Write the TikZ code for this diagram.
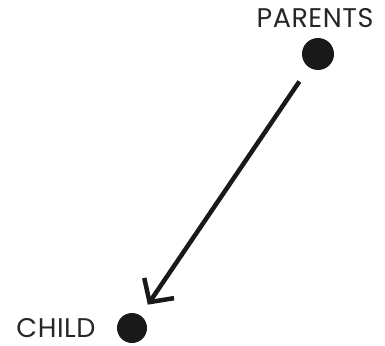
\documentclass[tikz,border=0pt]{standalone}
\usepackage{fontspec}
\setmainfont{Poppins}[LetterSpace=2]
\usetikzlibrary{arrows.meta}
\begin{document}
\begin{tikzpicture}[x=1pt,y=-1pt,
  dot/.style={circle,fill=black!90,inner sep=0pt},
  lbl/.style={inner sep=0pt,anchor=base,font=\fontsize{27}{27}\selectfont,text=black!85},
  link/.style={line width=4.5pt,draw=black!90,-{Straight Barb[length=17pt,width=36pt,line width=4.5pt]}}]
\useasboundingbox (0,0) rectangle (385,345);
\node[dot,minimum size=32pt] (p) at (318,54) {};
\node[dot,minimum size=30pt] (c) at (132,328) {};
\node[lbl] (pl) at (315,28) {PARENTS};
\node[lbl] (cl) at (56,337) {CHILD};
\draw[link,shorten <=17pt,shorten >=13pt] (p) -- (c);
\end{tikzpicture}
\end{document}
